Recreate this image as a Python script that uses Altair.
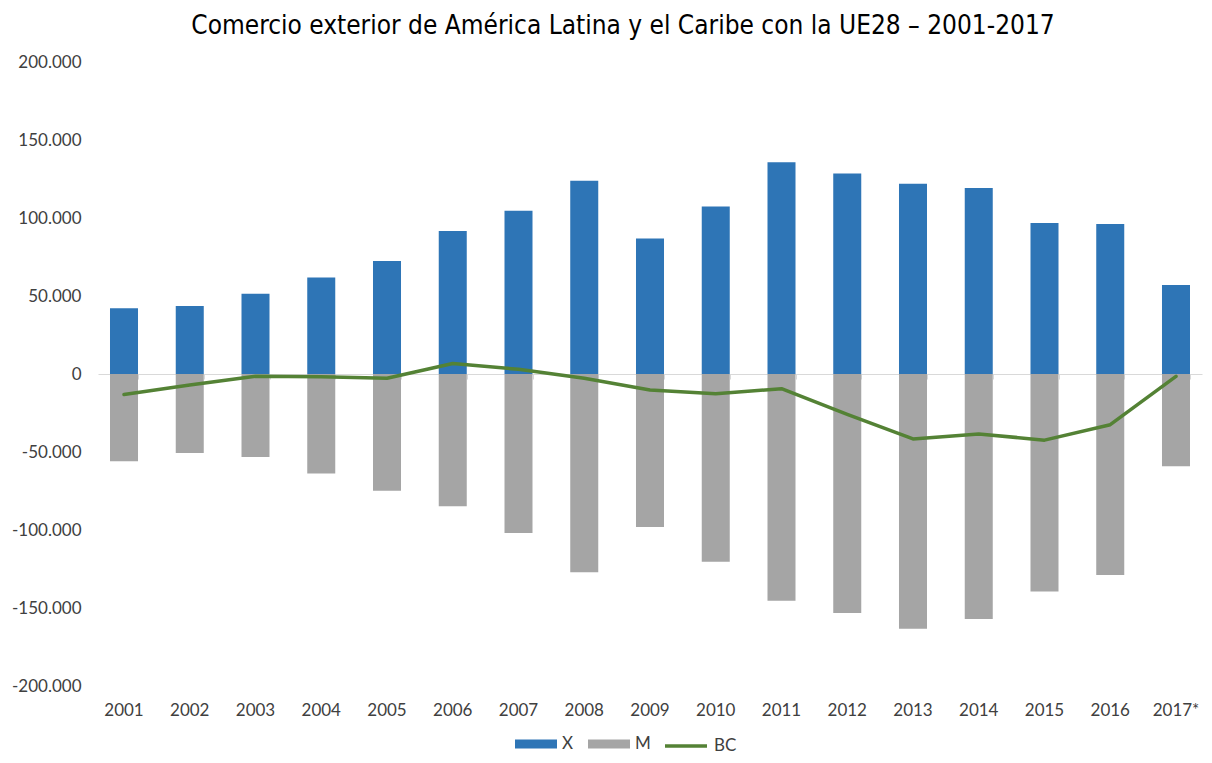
import altair as alt
import pandas as pd

years = ["2001", "2002", "2003", "2004", "2005", "2006", "2007", "2008", "2009",
         "2010", "2011", "2012", "2013", "2014", "2015", "2016", "2017*"]
exports_x = [42100, 43600, 51500, 61800, 72400, 91600, 104700, 123900, 86900,
             107400, 135700, 128600, 121900, 119200, 96800, 96100, 57100]
imports_m = [-55900, -50700, -53200, -63800, -74900, -84700, -102000, -127100, -98000,
             -120400, -145300, -153200, -163300, -157100, -139400, -128800, -59100]
balance_bc = [-13100, -7100, -1500, -1700, -2700, 6700, 3000, -2700, -10300,
              -12600, -9400, -25900, -41600, -38400, -42400, -32500, -1500]
bar_series = ["X", "M"]
bar_colors = ["#2E75B6", "#A5A5A5"]
line_series = ["BC"]
line_colors = ["#548235"]
y_ticks = [-200000, -150000, -100000, -50000, 0, 50000, 100000, 150000, 200000]

bars_df = pd.DataFrame(
    [{"year": y, "serie": "X", "value": v} for y, v in zip(years, exports_x)]
    + [{"year": y, "serie": "M", "value": v} for y, v in zip(years, imports_m)]
)
line_df = pd.DataFrame({"year": years, "BC": balance_bc, "serie": "BC"})

FONT = "Lato"
LABEL_COLOR = "#404040"
FS = 17

x_scale = alt.Scale(domain=years, paddingInner=0.574, paddingOuter=0.1825)
y_scale = alt.Scale(domain=[-200000, 200000], nice=False, zero=False)
y_axis = alt.Axis(title=None, values=y_ticks, domain=False, ticks=False,
                  grid=False, labelPadding=17, labelFont=FONT,
                  labelFontSize=FS, labelColor=LABEL_COLOR,
                  labelExpr="replace(replace(format(datum.value, ','), ',', '.'), '\u2212', '-')")

bars = alt.Chart(bars_df).mark_bar().encode(
    x=alt.X("year:N", sort=years, scale=x_scale,
            axis=alt.Axis(orient="bottom", title=None, domain=False, ticks=False,
                          labelAngle=0, labelPadding=16, labelFont=FONT,
                          labelFontSize=FS, labelColor=LABEL_COLOR)),
    y=alt.Y("value:Q", scale=y_scale, stack=None, axis=y_axis),
    color=alt.Color("serie:N", scale=alt.Scale(domain=bar_series, range=bar_colors),
                    legend=alt.Legend(
                        title=None, orient="none", direction="horizontal",
                        legendX=417, legendY=661,
                        symbolType="M-1,-0.22H1V0.22H-1Z", symbolSize=1764,
                        symbolStrokeWidth=0, labelFont=FONT, labelFontSize=FS,
                        labelColor=LABEL_COLOR, labelOffset=5, columnPadding=14,
                    )),
)

line = alt.Chart(line_df).mark_line(
    strokeWidth=3.5, strokeCap="round", strokeJoin="round"
).encode(
    x=alt.X("year:N", sort=years, scale=x_scale,
            axis=alt.Axis(orient="bottom", offset=-312, title=None, labels=False,
                          domain=True, domainColor="#D9D9D9", domainWidth=1,
                          ticks=True, tickColor="#D9D9D9", tickSize=5,
                          tickBand="extent")),
    y=alt.Y("BC:Q", scale=y_scale, axis=y_axis),
    stroke=alt.Stroke("serie:N", scale=alt.Scale(domain=line_series, range=line_colors),
                      legend=alt.Legend(
                          title=None, orient="none", direction="horizontal",
                          legendX=565, legendY=661,
                          symbolType="M-1,0H1", symbolSize=1764,
                          symbolStrokeWidth=3.5, labelFont=FONT, labelFontSize=FS,
                          labelColor=LABEL_COLOR, labelOffset=5,
                      )),
)

chart = alt.layer(bars, line).resolve_axis(x="independent").properties(
    width=1104,
    height=624,
    padding={"left": 90, "top": 54, "right": 2, "bottom": 69},
    autosize=alt.AutoSizeParams(type="none"),
    title=alt.TitleParams(
        "Comercio exterior de América Latina y el Caribe con la UE28 – 2001-2017",
        font="DejaVu Sans Condensed, sans-serif",
        fontSize=26, fontWeight="normal", color="#000000",
        anchor="middle", dx=-27, offset=14,
    ),
).configure_view(stroke=None)

chart.save("out.html", embed_options={"renderer": "svg", "actions": False})
